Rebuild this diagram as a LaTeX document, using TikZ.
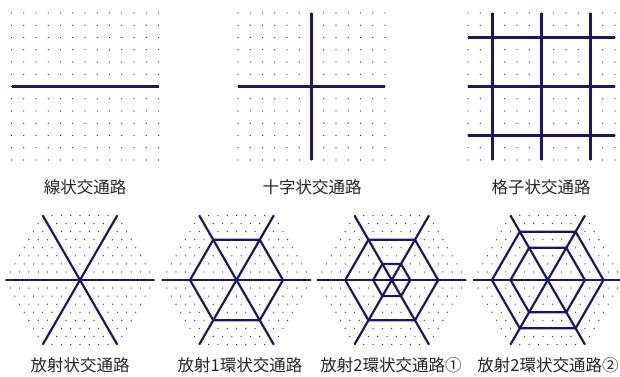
\documentclass[tikz,border=0pt]{standalone}
\usepackage{fontspec}
\newfontfamily\jp{Noto Sans CJK JP}
\definecolor{road}{RGB}{28,20,115}
\definecolor{dotc}{RGB}{30,30,30}
\begin{document}
\begin{tikzpicture}[x=1pt,y=-1pt,
  roadline/.style={draw=road,line width=2.2pt,line join=round},
  gdot/.style={fill=dotc},
  lbl/.style={font=\jp\fontsize{16.5}{18}\selectfont,text=black!85,inner sep=0pt}]
\useasboundingbox (0,0) rectangle (620,376);
% square dot grids
\foreach \ox in {11.5,238,468}{
  \foreach \i in {0,...,12}{
    \foreach \j in {0,...,12}{
      \fill[gdot] ({\ox+\i*12.25},{13+\j*12.25}) circle (0.65);
    }
  }
}
% panel 1
\coordinate (a1) at (11.5,86.5);
\coordinate (b1) at (158.5,86.5);
\draw[roadline] (a1) -- (b1);
% panel 2
\coordinate (a2) at (238,86.5);
\coordinate (b2) at (385,86.5);
\coordinate (c2) at (311.5,13);
\coordinate (d2) at (311.5,160);
\draw[roadline] (a2) -- (b2);
\draw[roadline] (c2) -- (d2);
% panel 3
\foreach \k in {2,6,10}{
  \draw[roadline] ({468+\k*12.25},13) -- ({468+\k*12.25},160);
  \draw[roadline] (468,{13+\k*12.25}) -- (615,{13+\k*12.25});
}
% hex centers
\coordinate (h4) at (80,280);
\coordinate (h5) at (236.5,280);
\coordinate (h6) at (391.7,280);
\coordinate (h7) at (547.7,280);
% hex dot grids
\foreach \cx in {80,236.5,391.7,547.7}{
  \foreach \r in {-8,...,8}{
    \pgfmathtruncatemacro\n{16-abs(\r)}
    \pgfmathsetmacro\sx{\cx-74.4+abs(\r)*4.65}
    \pgfmathsetmacro\sy{280+\r*8.054}
    \foreach \i in {0,...,\n}{
      \fill[gdot] ({\sx+\i*9.3},\sy) circle (0.65);
    }
  }
}
\fill[gdot] (308,280) circle (0.65);
\fill[gdot] (464,280) circle (0.65);
% radial lines
\foreach \h in {h4,h5,h6,h7}{
  \foreach \a in {0,60,120}{
    \draw[roadline] ([shift={(\a:74.4)}]\h) -- ([shift={(\a+180:74.4)}]\h);
  }
}
% rings
\foreach \h/\R in {h5/46.5,h6/46.5,h6/18.6,h7/37.2,h7/55.8}{
  \draw[roadline] (\h) +(0:\R) -- +(60:\R) -- +(120:\R) -- +(180:\R) -- +(240:\R) -- +(300:\R) -- cycle;
}
% labels
\node[lbl] (l1) at (85,187.5) {線状交通路};
\node[lbl] (l2) at (312,187.5) {十字状交通路};
\node[lbl] (l3) at (541,187.5) {格子状交通路};
\node[lbl] (l4) at (80,365) {放射状交通路};
\node[lbl] (l5) at (240,365) {放射1環状交通路};
\node[lbl] (l6) at (391,365) {放射2環状交通路①};
\node[lbl] (l7) at (548,365) {放射2環状交通路②};
\end{tikzpicture}
\end{document}
